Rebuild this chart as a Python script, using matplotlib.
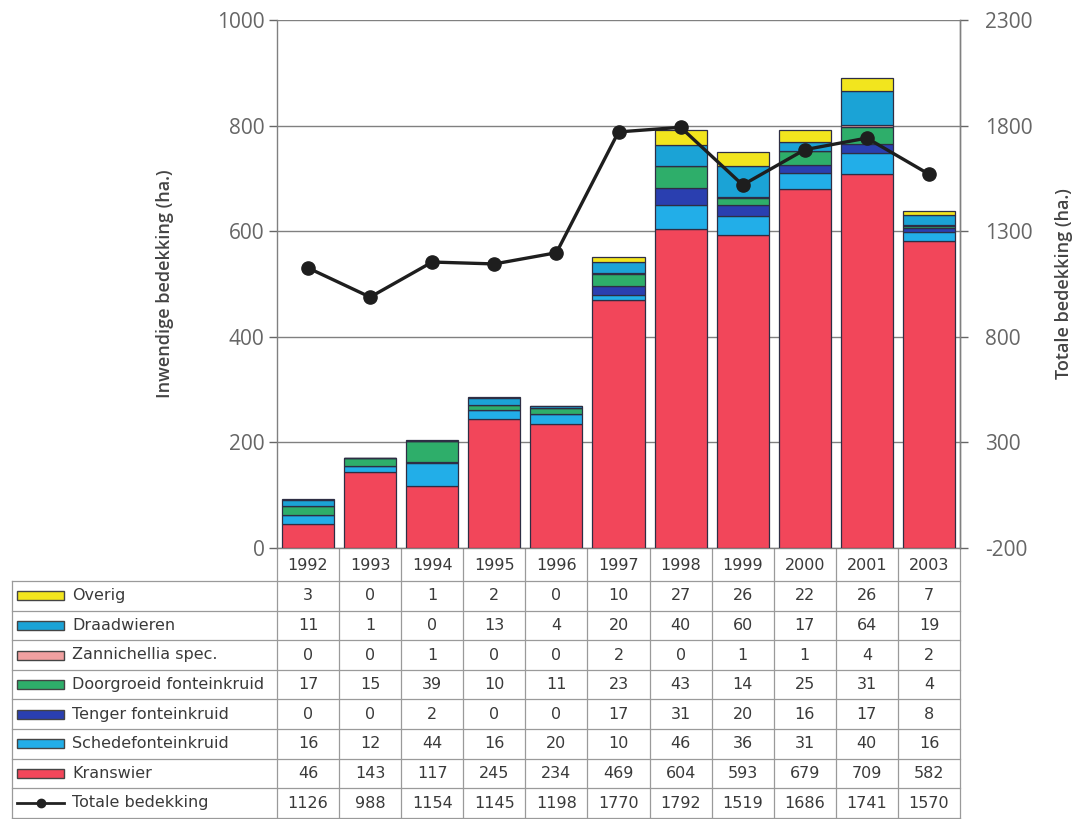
import matplotlib.pyplot as plt
import matplotlib.patches as mpatches
import numpy as np

plt.rcParams.update({
    "font.family": ["Open Sans", "DejaVu Sans"],
    "axes.linewidth": 1.0,
    "axes.unicode_minus": False,
})

years = ["1992", "1993", "1994", "1995", "1996", "1997", "1998", "1999", "2000", "2001", "2003"]

overig = [3, 0, 1, 2, 0, 10, 27, 26, 22, 26, 7]
draadwieren = [11, 1, 0, 13, 4, 20, 40, 60, 17, 64, 19]
zannichellia = [0, 0, 1, 0, 0, 2, 0, 1, 1, 4, 2]
doorgroeid = [17, 15, 39, 10, 11, 23, 43, 14, 25, 31, 4]
tenger = [0, 0, 2, 0, 0, 17, 31, 20, 16, 17, 8]
schede = [16, 12, 44, 16, 20, 10, 46, 36, 31, 40, 16]
kranswier = [46, 143, 117, 245, 234, 469, 604, 593, 679, 709, 582]
totale = [1126, 988, 1154, 1145, 1198, 1770, 1792, 1519, 1686, 1741, 1570]

# stacking order, bottom to top
series = [
    ("Kranswier", kranswier, "#f2465a"),
    ("Schedefonteinkruid", schede, "#22aee8"),
    ("Tenger fonteinkruid", tenger, "#2a3fb0"),
    ("Doorgroeid fonteinkruid", doorgroeid, "#2eae6a"),
    ("Zannichellia spec.", zannichellia, "#f0a0a0"),
    ("Draadwieren", draadwieren, "#1ba3d6"),
    ("Overig", overig, "#f2e51e"),
]

W, H = 1081, 819
fig = plt.figure(figsize=(W / 100, H / 100), dpi=100)

# plot area in pixels
px_left, px_right, px_top, px_bottom = 277, 960, 20, 548
ax = fig.add_axes([px_left / W, 1 - px_bottom / H,
                   (px_right - px_left) / W, (px_bottom - px_top) / H])

grey = "#666666"
x = np.arange(len(years))
bottom = np.zeros(len(years))
for name, vals, col in series:
    ax.bar(x, vals, bottom=bottom, width=0.84, color=col,
           edgecolor="#2e2e44", linewidth=0.9, zorder=3)
    bottom += np.array(vals)

ax.set_xlim(-0.5, len(years) - 0.5)
ax.set_ylim(0, 1000)
ax.set_yticks(range(0, 1001, 200))
ax.set_xticks([])
ax.yaxis.grid(True, color="#808080", linewidth=1.0, zorder=0)
ax.tick_params(axis="y", colors=grey, labelsize=15, length=6, width=1.0, pad=3)
ax.spines["top"].set_visible(False)
for s in ["left", "right", "bottom"]:
    ax.spines[s].set_color("#808080")
ax.set_ylabel("Inwendige bedekking (ha.)", fontsize=13, color="#444444",
              fontweight="semibold", labelpad=31)

ax2 = ax.twinx()
ax2.set_ylim(-200, 2300)
ax2.set_yticks(range(-200, 2301, 500))
ax2.plot(x, totale, color="#1e1e1e", linewidth=2.4, marker="o",
         markersize=9.5, zorder=5)
ax2.tick_params(axis="y", colors=grey, labelsize=15, length=6, width=1.0, pad=12)
for s in ["top", "left", "bottom"]:
    ax2.spines[s].set_visible(False)
ax2.spines["right"].set_color("#808080")
ax2.set_ylabel("Totale bedekking (ha.)", fontsize=13, color="#444444",
               fontweight="semibold", labelpad=16)

# data table underneath the bars
tab = fig.add_axes([0, 0, 1, 1], zorder=-1)
tab.set_xlim(0, W)
tab.set_ylim(H, 0)
tab.axis("off")

line_c = "#9a9a9a"
col_w = (px_right - px_left) / len(years)
col_edges = [px_left + i * col_w for i in range(len(years) + 1)]
head_top, head_bot = px_bottom, 581
row_h = 29.6
rows = [
    ("Overig", overig, "#f2e51e"),
    ("Draadwieren", draadwieren, "#1ba3d6"),
    ("Zannichellia spec.", zannichellia, "#f0a0a0"),
    ("Doorgroeid fonteinkruid", doorgroeid, "#2eae6a"),
    ("Tenger fonteinkruid", tenger, "#2a3fb0"),
    ("Schedefonteinkruid", schede, "#22aee8"),
    ("Kranswier", kranswier, "#f2465a"),
    ("Totale bedekking", totale, None),
]
table_left = 12
table_bot = head_bot + row_h * len(rows)
txt_kw = dict(fontsize=11.5, color="#3a3a3a", family=["DejaVu Sans"],
              va="center", ha="center")

# header row with the years
for i, yr in enumerate(years):
    tab.text(col_edges[i] + col_w / 2, (head_top + head_bot) / 2 + 1, yr, **txt_kw)
for xe in col_edges:
    tab.plot([xe, xe], [head_top, table_bot], color=line_c, lw=0.9)
tab.plot([table_left, table_left], [head_bot, table_bot], color=line_c, lw=0.9)
for r in range(len(rows) + 1):
    yl = head_bot + r * row_h
    tab.plot([table_left, px_right], [yl, yl], color=line_c, lw=0.9)

for r, (name, vals, col) in enumerate(rows):
    yc = head_bot + (r + 0.5) * row_h
    if col is not None:
        tab.add_patch(mpatches.Rectangle((17, yc - 4.5), 47, 9, facecolor=col,
                                         edgecolor="#444444", lw=1.0))
    else:
        tab.plot([17, 64], [yc, yc], color="#222222", lw=2)
        tab.plot([40.5], [yc], marker="o", color="#222222", markersize=6)
    tab.text(72, yc, name, fontsize=11.5, color="#3a3a3a", family=["DejaVu Sans"],
             va="center", ha="left")
    for i, v in enumerate(vals):
        tab.text(col_edges[i] + col_w / 2, yc, str(v), **txt_kw)

fig.savefig("out.png", dpi=100, facecolor="white")
